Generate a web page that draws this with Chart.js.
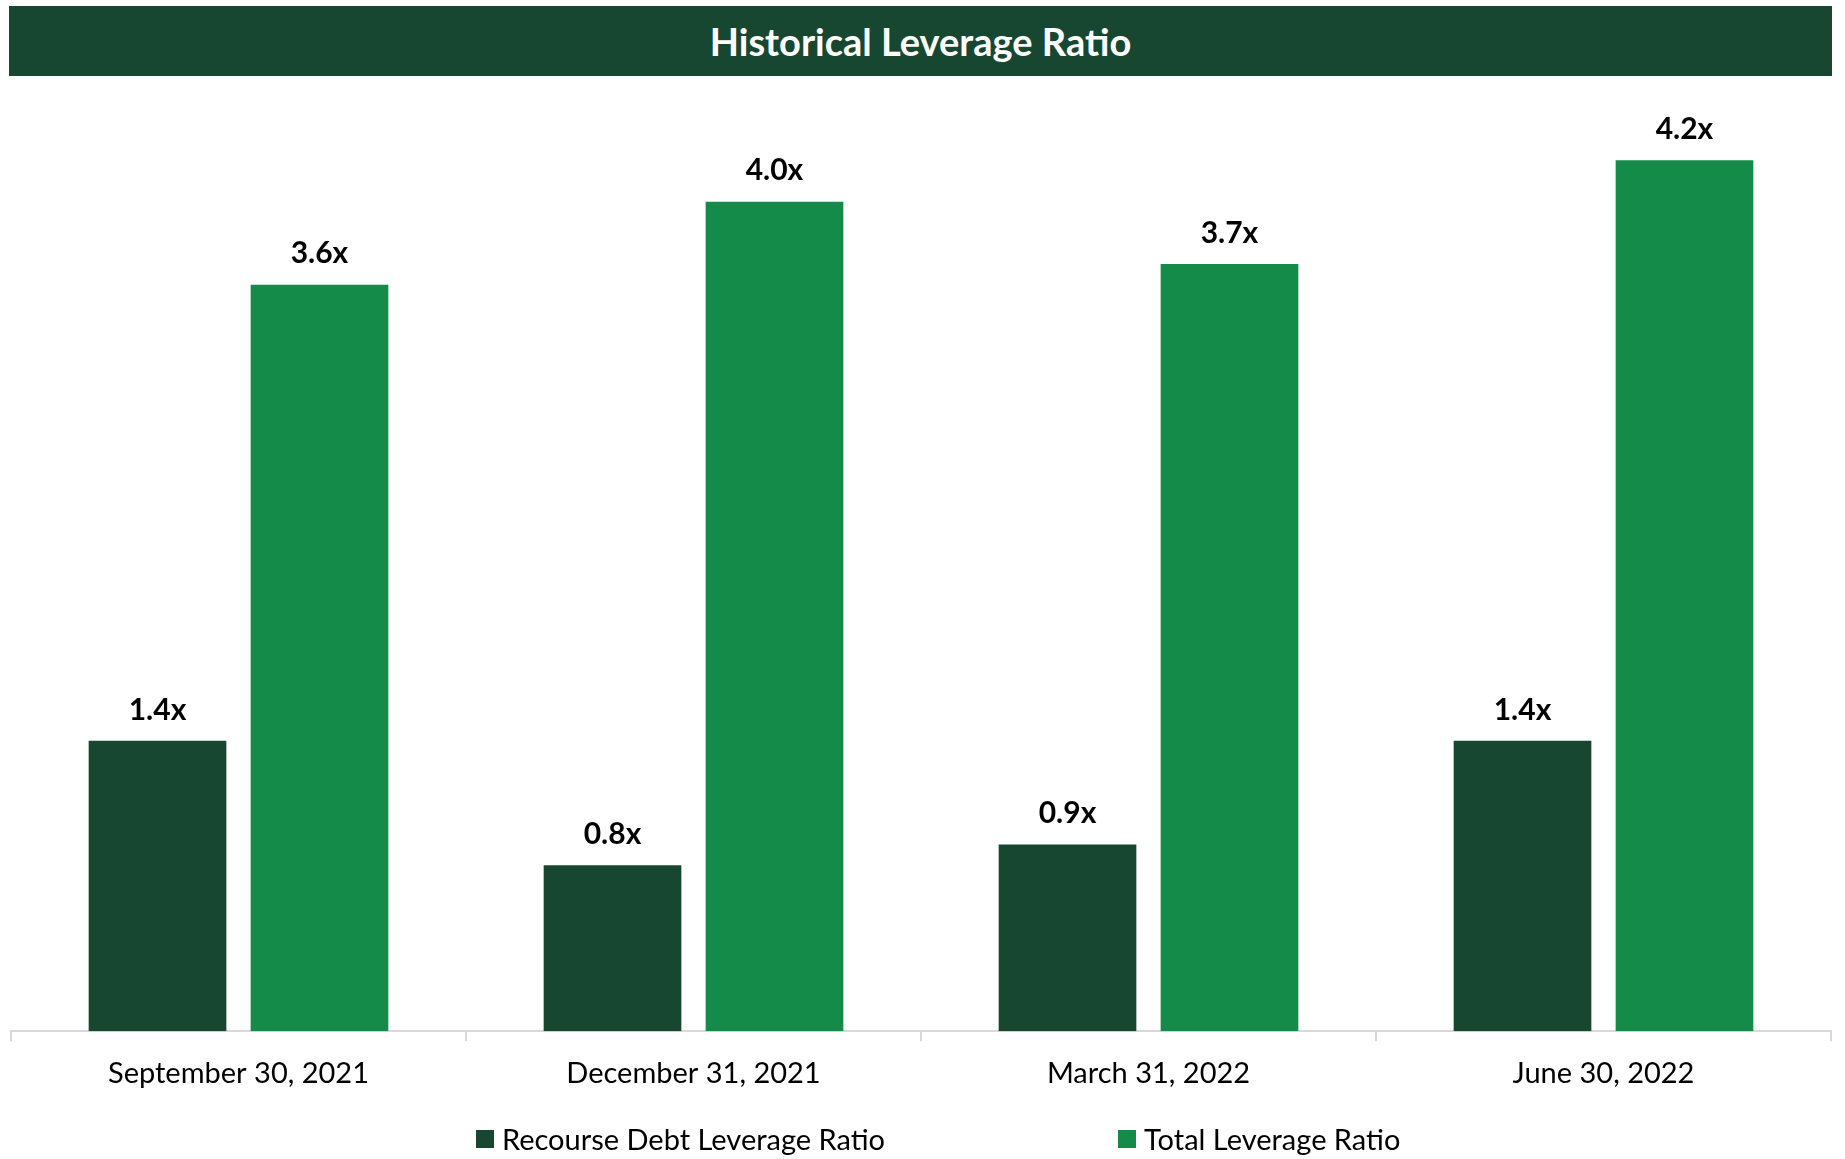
<!DOCTYPE html>
<html>
<head>
<meta charset="utf-8">
<script src="https://cdn.jsdelivr.net/npm/chart.js@4"></script>
<style>
  body { margin: 0; background: #fff; font-family: Lato, sans-serif; }
  #wrap { position: relative; width: 1845px; height: 1159px; }
  #title {
    position: absolute; left: 9px; top: 6px; width: 1823px; height: 70px;
    background: #184731; color: #fff; font-weight: bold; font-size: 38px;
    line-height: 70px; text-align: center;
  }
  #legend { position: absolute; left: 476px; top: 1121px; display: flex; font-size: 29px; color: #000; }
  .item { display: flex; align-items: center; }
  .item:first-child { width: 642px; }
  .box { width: 18px; height: 18px; margin-right: 8px; }
</style>
</head>
<body>
<div id="wrap">
  <canvas id="chartLeverage" width="1845" height="1159"></canvas>
  <div id="title">Historical Leverage Ratio</div>
  <div id="legend"></div>
</div>
<script>
const quarters = ["September 30, 2021", "December 31, 2021", "March 31, 2022", "June 30, 2022"];
const recourseDebtRatio = [1.4, 0.8, 0.9, 1.4];
const totalLeverageRatio = [3.6, 4.0, 3.7, 4.2];

const darkGreen = "#184731";
const brightGreen = "#158b4a";

// labels like "3.6x" above each bar
const valueLabels = {
  id: "valueLabels",
  afterDatasetsDraw(chart) {
    const ctx = chart.ctx;
    ctx.save();
    ctx.font = "bold 30px Lato";
    ctx.fillStyle = "#000";
    ctx.textAlign = "center";
    ctx.textBaseline = "middle";
    chart.data.datasets.forEach((ds, i) => {
      chart.getDatasetMeta(i).data.forEach((bar, j) => {
        ctx.fillText(ds.data[j].toFixed(1) + "x", bar.x, bar.y - 31);
      });
    });
    ctx.restore();
  },
};

const ctx = document.getElementById("chartLeverage").getContext("2d");
const chart = new Chart(ctx, {
  type: "bar",
  data: {
    labels: quarters,
    datasets: [
      { label: "Recourse Debt Leverage Ratio", data: recourseDebtRatio, backgroundColor: darkGreen },
      { label: "Total Leverage Ratio", data: totalLeverageRatio, backgroundColor: brightGreen },
    ],
  },
  options: {
    responsive: false,
    devicePixelRatio: 1,
    animation: false,
    categoryPercentage: 0.712,
    barPercentage: 0.85,
    layout: { padding: { left: 11, right: 14, top: 98, bottom: 53 } },
    plugins: {
      legend: { display: false },
      title: { display: false },
      tooltip: { enabled: false },
    },
    scales: {
      x: {
        grid: { drawOnChartArea: false, drawTicks: true, tickLength: 10, color: "#d9d9d9", lineWidth: 2 },
        border: { display: true, color: "#d9d9d9", width: 2 },
        ticks: { font: { family: "Lato", size: 29 }, color: "#000", padding: 15 },
      },
      y: { display: false, min: 0, max: 4.5 },
    },
  },
  plugins: [valueLabels],
});

// legend from the datasets
let temp = "";
chart.data.datasets.forEach((ds) => {
  temp += `<div class="item"><span class="box" style="background:${ds.backgroundColor}"></span>${ds.label}</div>`;
});
document.getElementById("legend").innerHTML = temp;
</script>
</body>
</html>
